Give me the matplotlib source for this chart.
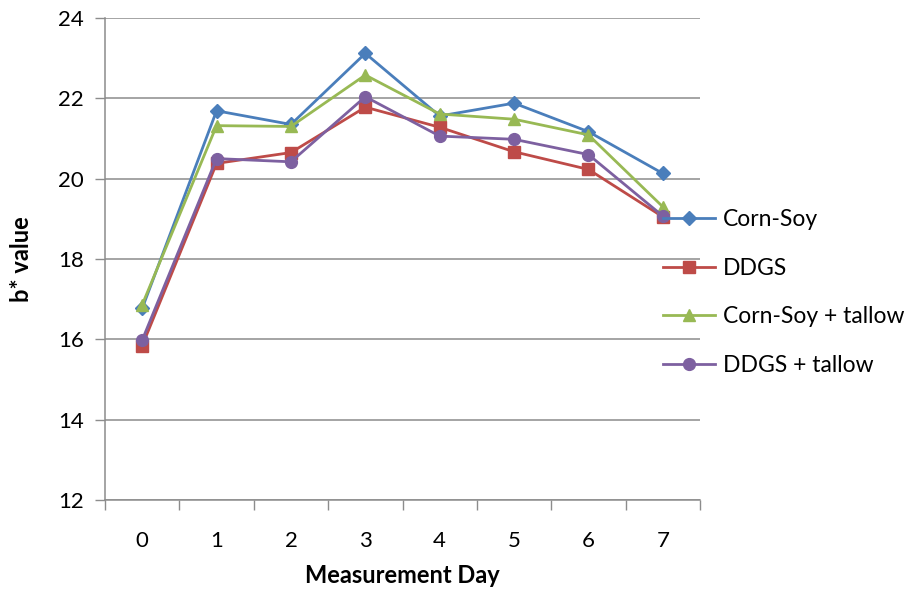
import numpy as np
import matplotlib
matplotlib.use("Agg")
import matplotlib.pyplot as plt

plt.rcParams['font.family'] = ['Lato', 'DejaVu Sans']

days = [0, 1, 2, 3, 4, 5, 6, 7]
corn_soy = [16.77, 21.69, 21.35, 23.12, 21.56, 21.88, 21.17, 20.13]
ddgs = [15.84, 20.38, 20.65, 21.78, 21.28, 20.67, 20.23, 19.05]
corn_soy_tallow = [16.86, 21.32, 21.30, 22.58, 21.61, 21.48, 21.09, 19.30]
ddgs_tallow = [15.98, 20.50, 20.42, 22.04, 21.06, 20.98, 20.60, 19.07]

series = [
    ("Corn-Soy", corn_soy, "#4A7EBB", "D", 7),
    ("DDGS", ddgs, "#BE4B48", "s", 8),
    ("Corn-Soy + tallow", corn_soy_tallow, "#98B954", "^", 9),
    ("DDGS + tallow", ddgs_tallow, "#7D60A0", "o", 8.5),
]

fig = plt.figure(figsize=(9.11, 5.89), dpi=100)
ax = fig.add_axes([105 / 911, 1 - 500 / 589, 595 / 911, 482 / 589])

for name, vals, col, mk, ms in series:
    ax.plot(days, vals, color=col, marker=mk, markersize=ms, linewidth=2,
            label=name, markeredgecolor=col)

grid_col = "#8c8c8c"
ax.set_ylim(12, 24)
ax.set_yticks(np.arange(12, 25, 2))
ax.yaxis.grid(True, color=grid_col, linewidth=1.1)
ax.set_axisbelow(True)

# category axis: ticks between days, labels centred on each day
ax.set_xlim(-0.5, 7.5)
ax.set_xticks(np.arange(-0.5, 8, 1))
ax.set_xticklabels([])
ax.set_xticks(days, minor=True)
ax.set_xticklabels([str(d) for d in days], minor=True)
ax.tick_params(axis='x', which='major', length=7, color=grid_col, width=1)
ax.tick_params(axis='x', which='minor', length=0, pad=22, labelsize=16)
ax.tick_params(axis='y', length=7, color=grid_col, width=1, labelsize=16, pad=8)

for s in ["top", "right"]:
    ax.spines[s].set_visible(False)
for s in ["left", "bottom"]:
    ax.spines[s].set_color(grid_col)
    ax.spines[s].set_linewidth(1.1)

ax.set_xlabel("Measurement Day", fontsize=17, fontweight="bold", labelpad=10)
ax.set_ylabel("b* value", fontsize=17, fontweight="bold", labelpad=18)

leg = ax.legend(loc="center left", bbox_to_anchor=(663 / 911, 1 - 292.5 / 589),
                bbox_transform=fig.transFigure, frameon=False, fontsize=16.5,
                handlelength=2.27, handletextpad=0.35, labelspacing=1.2,
                borderpad=0, borderaxespad=0)

fig.savefig("out.png", dpi=100)
